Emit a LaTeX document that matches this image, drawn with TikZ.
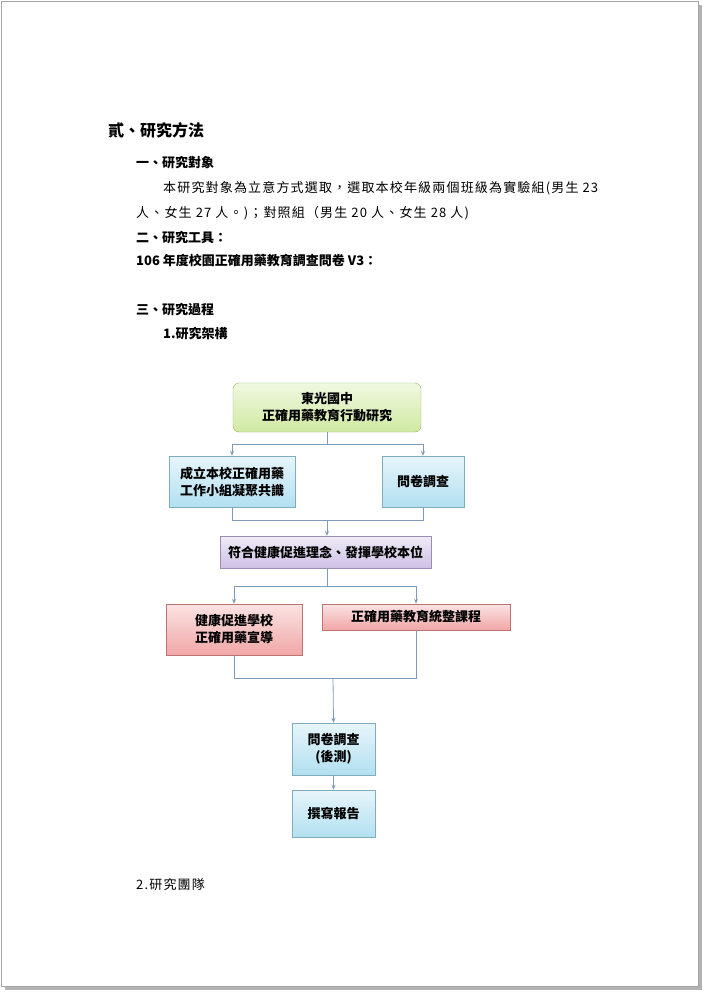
\documentclass[tikz,border=0pt]{standalone}
\usepackage{fontspec}
\newfontfamily\cjk{Noto Sans CJK TC}
\newfontfamily\cjks{Noto Sans CJK TC}[LetterSpace=9]
\usetikzlibrary{arrows.meta}
\definecolor{conn}{HTML}{7F9BB8}
\tikzset{
  txt/.style={anchor=base west, inner sep=0pt, font=\cjks\fontsize{13}{15}\selectfont},
  hd/.style={anchor=base west, inner sep=0pt, font=\cjk\bfseries\fontsize{13}{15}\selectfont},
  box/.style={draw=#1!80!black, top color=#1!25, bottom color=#1!80, inner sep=2pt, align=center, font=\cjk\bfseries\fontsize{13}{17}\selectfont, text=black},
  cl/.style={draw=conn, line width=0.8pt},
  ca/.style={cl, -{Stealth[length=5pt,width=4pt]}}
}
\definecolor{gr}{HTML}{C4E48A}
\definecolor{bl}{HTML}{9FD8EC}
\definecolor{pu}{HTML}{C2B0DE}
\definecolor{rd}{HTML}{EE9090}
\begin{document}
\begin{tikzpicture}[x=1pt,y=-1pt]
\useasboundingbox (0,0) rectangle (704,992);
\fill[gray!60] (5,5) rectangle (702,990);
\fill[white,draw=gray!70] (1,1) rectangle (698,986);
\node[hd, font=\cjk\bfseries\fontsize{16}{18}\selectfont] (t0) at (108,137) {貳、研究方法};
\node[hd] (t1) at (136,168) {一、研究對象};
\node[txt] (t2) at (163,193) {本研究對象為立意方式選取，選取本校年級兩個班級為實驗組(男生 23};
\node[txt] (t3) at (136,218) {人、女生 27 人。)；對照組（男生 20 人、女生 28 人)};
\node[hd] (t4) at (136,242) {二、研究工具：};
\node[hd] (t5) at (136,265) {106 年度校園正確用藥教育調查問卷 V3：};
\node[hd] (t6) at (136,314) {三、研究過程};
\node[hd] (t7) at (163,338) {1.研究架構};
\node[txt] (t8) at (136,889) {2.研究團隊};
% boxes
\node[box=gr, rounded corners=6pt, minimum width=188pt, minimum height=49pt] (a) at (327,407.5) {東光國中\\正確用藥教育行動研究};
\node[box=bl, minimum width=126pt, minimum height=51pt] (b1) at (232,481.5) {成立本校正確用藥\\工作小組凝聚共識};
\node[box=bl, minimum width=82pt, minimum height=51pt] (b2) at (423,481.5) {問卷調查};
\node[box=pu, minimum width=211pt, minimum height=32pt] (c) at (325.5,552) {符合健康促進理念、發揮學校本位};
\node[box=rd, minimum width=136pt, minimum height=51pt] (d1) at (234,629.5) {健康促進學校\\正確用藥宣導};
\node[box=rd, minimum width=188pt, minimum height=26pt] (d2) at (416,617) {正確用藥教育統整課程};
\node[box=bl, minimum width=83pt, minimum height=52pt] (e) at (333.5,749) {問卷調查\\(後測)};
\node[box=bl, minimum width=83pt, minimum height=47pt] (f) at (333.5,813.5) {撰寫報告};
% connectors
\coordinate (s1) at (327,444);
\coordinate (m1) at (327,520);
\coordinate (s2) at (327,586);
\coordinate (m2) at (333,678);
\draw[cl] (a.south) -- (s1);
\draw[ca] (s1) -| (b1.north);
\draw[ca] (s1) -| (b2.north);
\draw[cl] (b1.south) |- (m1);
\draw[cl] (b2.south) |- (m1);
\draw[ca] (m1) -- (m1 |- c.north);
\draw[cl] (c.south -| s2) -- (s2);
\draw[ca] (s2) -| (d1.north);
\draw[ca] (s2) -| (d2.north);
\draw[cl] (d1.south) |- (m2);
\draw[cl] (d2.south) |- (m2);
\draw[ca] (m2) -- (e.north);
\draw[ca] (e.south) -- (f.north);
\end{tikzpicture}
\end{document}
